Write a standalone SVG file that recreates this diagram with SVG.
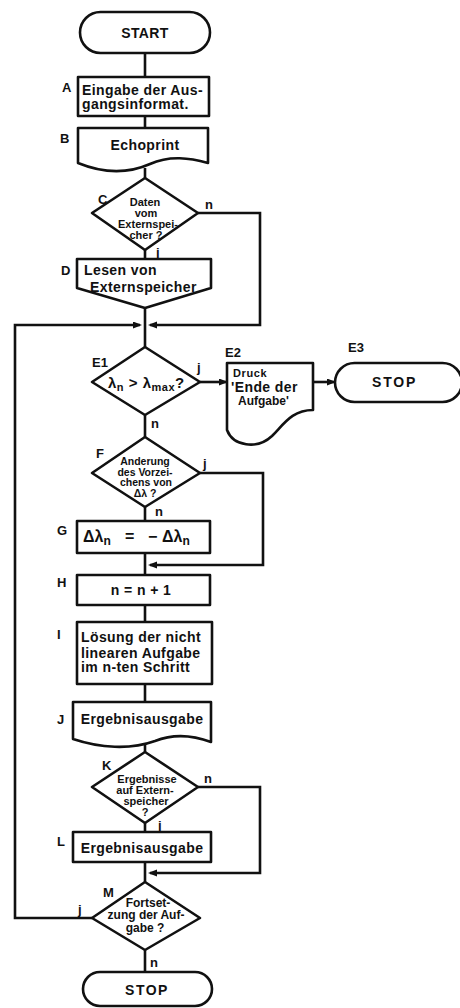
<svg xmlns="http://www.w3.org/2000/svg" width="460" height="1008" viewBox="0 0 460 1008">
<defs>
<marker id="ah" markerUnits="userSpaceOnUse" markerWidth="10" markerHeight="8" refX="7" refY="3.5" orient="auto">
<path d="M0,0 L9,3.5 L0,7 Z" fill="#111"/>
</marker>
</defs>
<style>
.s{fill:#fff;stroke:#111;stroke-width:2.6;stroke-linejoin:round}
.c{fill:none;stroke:#111;stroke-width:2.6}
text{font-family:"Liberation Sans",Arial,sans-serif;font-weight:bold;fill:#111}
.t{font-size:14px;letter-spacing:0.4px}
.m{text-anchor:middle}
.l{font-size:13px}
.d{font-size:12px;text-anchor:middle}
.k{font-size:11px;text-anchor:middle}
.f{font-size:10.5px;text-anchor:middle}
.y{font-size:13px}
</style>
<rect width="460" height="1008" fill="#fff"/>
<g id="connectors">
<path class="c" d="M145,53 V77 M145,116 V127 M145,168 V178 M145,250 V259 M145,308 V347 M145,415 V437 M145,507 V521 M145,553 V575 M145,605 V622 M145,684 V702 M145,742 V752 M145,823 V832 M145,862 V882 M145,950 V972"/>
<path class="c" d="M198,213 H260 V325 H150" marker-end="url(#ah)"/>
<path class="c" d="M92,918 H15 V325 H140" marker-end="url(#ah)"/>
<path class="c" d="M200,382 H226" marker-end="url(#ah)"/>
<path class="c" d="M313,382 H334" marker-end="url(#ah)"/>
<path class="c" d="M200,473 H263 V565 H150" marker-end="url(#ah)"/>
<path class="c" d="M198,787 H260 V873 H150" marker-end="url(#ah)"/>
</g>
<g id="start">
<rect class="s" x="80" y="12" width="130" height="41" rx="20.5"/>
<text class="t m" x="145" y="38">START</text>
</g>
<g id="A">
<rect class="s" x="78" y="77" width="131" height="39"/>
<text class="l" x="62" y="92">A</text>
<text class="t" x="82" y="95">Eingabe der Aus-</text>
<text class="t" x="82" y="109">gangsinformat.</text>
</g>
<g id="B">
<path class="s" d="M78,128 H208 V163 C190,158 170,155 150,164 C125,175 100,172 78,163 Z"/>
<text class="l" x="60" y="143">B</text>
<text class="t m" x="145" y="150">Echoprint</text>
</g>
<g id="C">
<path class="s" d="M145,178 L198,213 L145,250 L92,213 Z"/>
<text class="l" x="98" y="204">C</text>
<text class="k" x="145" y="206">Daten</text>
<text class="k" x="146" y="217">vom</text>
<text class="k" x="148" y="228">Externspei-</text>
<text class="k" x="146" y="239">cher ?</text>
<text class="y" x="205" y="209">n</text>
<text class="y" x="156" y="257">j</text>
</g>
<g id="D">
<path class="s" d="M77,259 H211 V288 L145,308 L77,288 Z"/>
<text class="l" x="61" y="275">D</text>
<text class="t" x="84" y="275">Lesen von</text>
<text class="t" x="90" y="292">Externspeicher</text>
</g>
<g id="E1">
<path class="s" d="M145,347 L200,382 L145,415 L92,382 Z"/>
<text class="l" x="92" y="367">E1</text>
<text x="108" y="388" font-size="15" letter-spacing="0.5">λ<tspan font-size="11" dy="3">n</tspan><tspan dy="-3"> &gt; λ</tspan><tspan font-size="11" dy="3">max</tspan><tspan dy="-3">?</tspan></text>
<text class="y" x="197" y="372">j</text>
<text class="y" x="151" y="428">n</text>
</g>
<g id="E2">
<path class="s" d="M227,363 H313 V410 C292,410 284,424 272,436 C257,450 233,446 227,430 Z"/>
<text class="l" x="225" y="357">E2</text>
<text x="233" y="377" font-size="11" letter-spacing="0.6">Druck</text>
<text class="t" x="231" y="392">'Ende der</text>
<text x="238" y="405" font-size="12">Aufgabe'</text>
</g>
<g id="E3">
<rect class="s" x="335" y="363" width="127" height="39" rx="19.5"/>
<text class="l" x="348" y="352">E3</text>
<text x="372" y="387" font-size="14" letter-spacing="1.8">STOP</text>
</g>
<g id="F">
<path class="s" d="M145,437 L200,473 L145,507 L92,473 Z"/>
<text class="l" x="96" y="458">F</text>
<text class="f" x="145" y="465">Anderung</text>
<text class="f" x="145" y="475.5">des Vorzei-</text>
<text class="f" x="146" y="486">chens von</text>
<text class="f" x="145" y="496.5">Δλ ?</text>
<text class="y" x="203" y="468">j</text>
<text class="y" x="155" y="516">n</text>
</g>
<g id="G">
<rect class="s" x="77" y="521" width="133" height="32"/>
<text class="l" x="57" y="535">G</text>
<text x="83" y="542" font-size="16">Δλ<tspan font-size="12" dy="3">n</tspan><tspan x="125" dy="-3">=</tspan><tspan x="148">−</tspan><tspan x="162">Δλ</tspan><tspan font-size="12" dy="3">n</tspan></text>
</g>
<g id="H">
<rect class="s" x="77" y="575" width="133" height="30"/>
<text class="l" x="57" y="587">H</text>
<text class="t m" x="141" y="595" letter-spacing="1.5">n = n + 1</text>
</g>
<g id="I">
<rect class="s" x="77" y="622" width="135" height="62"/>
<text class="l" x="57" y="639">I</text>
<text class="t" x="81" y="642">Lösung der nicht</text>
<text class="t" x="81" y="658">linearen Aufgabe</text>
<text class="t" x="81" y="672">im n-ten Schritt</text>
</g>
<g id="J">
<path class="s" d="M73,702 H211 V742 C195,736 175,733 155,741 C130,750 100,748 73,739 Z"/>
<text class="l" x="57" y="724">J</text>
<text class="t m" x="142" y="724">Ergebnisausgabe</text>
</g>
<g id="K">
<path class="s" d="M145,752 L198,787 L145,823 L92,787 Z"/>
<text class="l" x="102" y="770">K</text>
<text class="k" x="147" y="783">Ergebnisse</text>
<text class="k" x="145" y="794">auf Extern-</text>
<text class="k" x="146" y="805">speicher</text>
<text class="k" x="145" y="816">?</text>
<text class="y" x="204" y="783">n</text>
<text class="y" x="158" y="830">j</text>
</g>
<g id="L">
<rect class="s" x="73" y="832" width="138" height="30"/>
<text class="l" x="57" y="846">L</text>
<text class="t m" x="142" y="853">Ergebnisausgabe</text>
</g>
<g id="M">
<path class="s" d="M145,882 L200,918 L145,950 L92,918 Z"/>
<text class="l" x="103" y="897">M</text>
<text class="d" x="148" y="907">Fortset-</text>
<text class="d" x="146" y="919">zung der Auf-</text>
<text class="d" x="145" y="932">gabe ?</text>
<text class="y" x="78" y="914">j</text>
<text class="y" x="150" y="967">n</text>
</g>
<g id="stop">
<rect class="s" x="83" y="972" width="129" height="34" rx="17"/>
<text x="147" y="995" font-size="14" text-anchor="middle" letter-spacing="1.5">STOP</text>
</g>
</svg>
